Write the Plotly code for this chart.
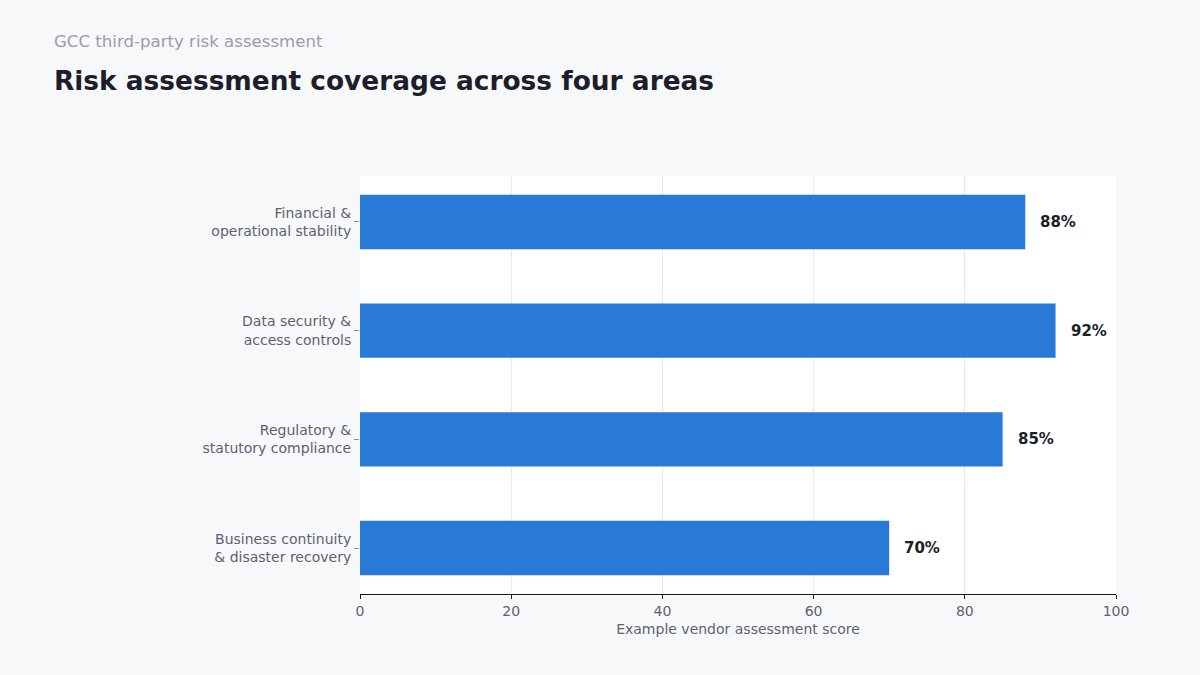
import plotly.graph_objects as go

categories = ["Financial &<br>operational stability",
              "Data security &<br>access controls",
              "Regulatory &<br>statutory compliance",
              "Business continuity<br>& disaster recovery"]
scores = [88, 92, 85, 70]
value_labels = ["88%", "92%", "85%", "70%"]
x_ticks = [0, 20, 40, 60, 80, 100]

FONT = "DejaVu Sans"
fig = go.Figure()
fig.add_trace(go.Bar(
    x=scores, y=categories, orientation="h",
    marker=dict(color="#2979d6", line=dict(width=0)),
    width=0.5, hoverinfo="skip",
))

annotations = []
for c, v, t in zip(categories, scores, value_labels):
    annotations.append(dict(x=v, y=c, xref="x", yref="y", text=f"<b>{t}</b>",
                            showarrow=False, xanchor="left", yanchor="middle",
                            xshift=13, font=dict(family=FONT, size=15, color="#1c1f2b")))
annotations.append(dict(x=-0.4074, y=1.321, xref="paper", yref="paper",
                        text="GCC third-party risk assessment", showarrow=False,
                        xanchor="left", yanchor="middle",
                        font=dict(family=FONT, size=16.6, color="#9a9ca8")))
annotations.append(dict(x=-0.4074, y=1.2285, xref="paper", yref="paper",
                        text="<b>Risk assessment coverage across four areas</b>", showarrow=False,
                        xanchor="left", yanchor="middle",
                        font=dict(family=FONT, size=26.4, color="#1c1f2b")))

fig.update_layout(
    width=1200, height=675,
    margin=dict(l=360, r=84, t=176, b=81),
    paper_bgcolor="#f7f8fa", plot_bgcolor="#ffffff",
    showlegend=False, bargap=0.5,
    annotations=annotations,
    font=dict(family=FONT, size=14, color="#5f6170"),
)
fig.update_xaxes(range=[0, 100], tickvals=x_ticks, showgrid=True, gridcolor="#e9e9ec",
                 gridwidth=1, zeroline=False, showline=True, linecolor="#1a1a1a", linewidth=1,
                 ticks="outside", ticklen=4, tickcolor="#1a1a1a",
                 tickfont=dict(family=FONT, size=14, color="#5f6170"),
                 title=dict(text="Example vendor assessment score", standoff=6,
                            font=dict(family=FONT, size=14, color="#5f6170")))
fig.update_yaxes(categoryorder="array", categoryarray=categories,
                 range=[3.423, -0.423], showgrid=False, zeroline=False, showline=False,
                 ticks="outside", ticklen=5, tickcolor="#8a8c98",
                 tickfont=dict(family=FONT, size=14, color="#5f6170"))

fig.write_html("out.html")
